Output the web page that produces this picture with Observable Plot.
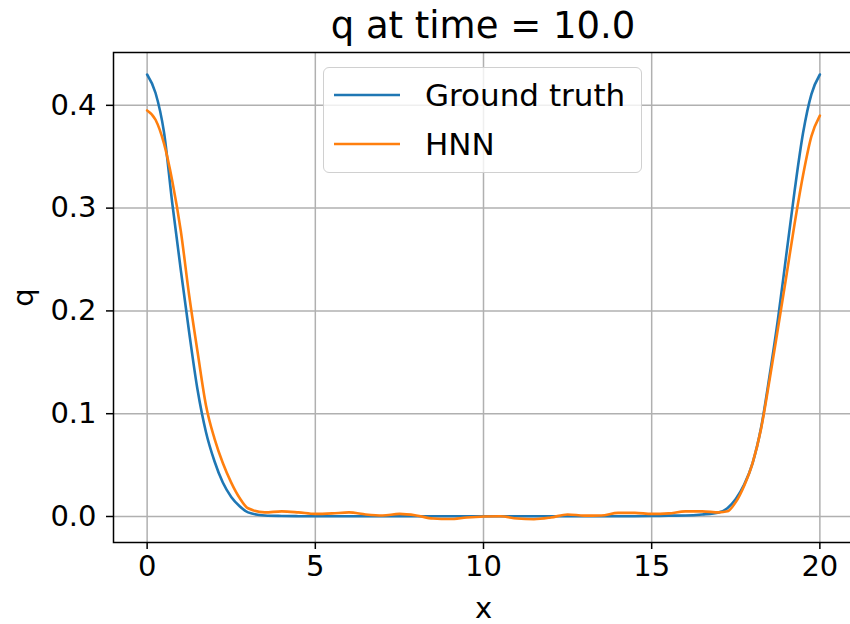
<!DOCTYPE html>
<html>
<head>
<meta charset="utf-8">
<script src="https://cdn.jsdelivr.net/npm/d3@7"></script>
<script src="https://cdn.jsdelivr.net/npm/@observablehq/plot@0.6"></script>
<style>
  body { margin: 0; background: #fff; font-family: "DejaVu Sans", sans-serif; }
  #wrap { position: relative; width: 850px; height: 624px; overflow: hidden; background: #fff; }
  #title { position: absolute; left: 113px; top: 0; width: 740px; height: 48px; text-align: center;
           font-size: 37px; line-height: 52px; color: #000; white-space: nowrap; }
  #chart { position: absolute; left: 0; top: 48px; }
  #legend { position: absolute; left: 323px; top: 67px; width: 317px; height: 104px;
            background: rgba(255,255,255,0.8); border: 1.5px solid #d0d0d0; border-radius: 6px;
            font-size: 31px; color: #000; }
  .item { position: absolute; left: 0; height: 40px; white-space: nowrap; }
  .item svg { position: absolute; left: 10px; top: 0; }
  .item span { position: absolute; left: 101px; top: 1px; line-height: 36px; }
</style>
</head>
<body>
<div id="wrap">
  <div id="title">q at time = 10.0</div>
  <div id="chart"></div>
  <div id="legend"></div>
</div>
<script>
// ---- data ----
const xs = [0, 0.25, 0.5, 0.75, 1, 1.25, 1.5, 1.75, 2, 2.25, 2.5, 2.75, 3,
  3.5, 4, 4.5, 5, 5.5, 6, 6.5, 7, 7.5, 8, 8.5, 9, 9.5, 10, 10.5, 11, 11.5, 12, 12.5, 13, 13.5, 14, 14.5, 15, 15.5, 16, 16.5, 17,
  17.25, 17.5, 17.75, 18, 18.25, 18.5, 18.75, 19, 19.25, 19.5, 19.75, 20];

const groundTruth = [0.430, 0.412, 0.374, 0.304, 0.240, 0.179, 0.123, 0.082, 0.054, 0.033, 0.019, 0.010, 0.004,
  0.001, 0.0005, 0.0003, 0.0002, 0.0002, 0.0002, 0.0002, 0.0002, 0.0002, 0.0002, 0.0002, 0.0002, 0.0002, 0.0002, 0.0002, 0.0002, 0.0002, 0.0002, 0.0002, 0.0002, 0.0002, 0.0002, 0.0003, 0.0005, 0.0008, 0.001, 0.002, 0.004,
  0.008, 0.017, 0.031, 0.052, 0.086, 0.136, 0.191, 0.254, 0.317, 0.373, 0.411, 0.430];

const hnn = [0.395, 0.386, 0.363, 0.326, 0.278, 0.215, 0.160, 0.108, 0.076, 0.052, 0.033, 0.018, 0.008,
  0.004, 0.005, 0.004, 0.0025, 0.003, 0.004, 0.002, 0.001, 0.0025, 0.001, -0.002, -0.0025, -0.001, 0.0, 0.0003, -0.002, -0.0027, -0.001, 0.002, 0.0008, 0.001, 0.0035, 0.0035, 0.0025, 0.003, 0.005, 0.005, 0.004,
  0.005, 0.014, 0.030, 0.052, 0.085, 0.132, 0.182, 0.233, 0.285, 0.332, 0.370, 0.390];

const seriesNames = ["Ground truth", "HNN"];
const seriesColors = ["#1f77b4", "#ff7f0e"];
const xTicks = [0, 5, 10, 15, 20];
const yTicks = [0.0, 0.1, 0.2, 0.3, 0.4];

// ---- build table ----
const rows = [];
xs.forEach((x, i) => {
  rows.push({x, q: groundTruth[i], series: seriesNames[0]});
  rows.push({x, q: hnn[i], series: seriesNames[1]});
});

const chart = Plot.plot({
  width: 850,
  height: 576,
  marginLeft: 113,
  marginRight: -3,
  marginTop: 4,
  marginBottom: 82,
  style: { fontFamily: "DejaVu Sans", fontSize: "29px", color: "#000", background: "transparent", overflow: "visible" },
  x: { domain: [-1, 21], ticks: xTicks, tickFormat: d => String(d), label: null },
  y: { domain: [-0.0253, 0.4514], ticks: yTicks, tickFormat: d => d.toFixed(1), label: null },
  color: { domain: seriesNames, range: seriesColors },
  marks: [
    Plot.gridX(xTicks, { stroke: "#b0b0b0", strokeOpacity: 1, strokeWidth: 1.5 }),
    Plot.gridY(yTicks, { stroke: "#b0b0b0", strokeOpacity: 1, strokeWidth: 1.5 }),
    Plot.line(rows, { x: "x", y: "q", z: "series", stroke: "series", strokeWidth: 2.6, curve: "monotone-x" }),
    Plot.axisX(xTicks, { tickSize: 7, tickPadding: 6, strokeWidth: 1.5, fontSize: 29, tickFormat: d => String(d),
      label: "x", labelAnchor: "center", labelArrow: "none", labelOffset: 75 }),
    Plot.axisY(yTicks, { tickSize: 7, tickPadding: 10, strokeWidth: 1.5, fontSize: 29, tickFormat: d => d.toFixed(1),
      label: "q", labelAnchor: "center", labelArrow: "none", labelOffset: 101 }),
    Plot.frame({ stroke: "#000", strokeWidth: 1.5 })
  ]
});
document.getElementById("chart").appendChild(chart);

// ---- legend ----
const legend = document.getElementById("legend");
seriesNames.forEach((name, i) => {
  const item = document.createElement("div");
  item.className = "item";
  item.style.top = (8 + i * 49) + "px";
  item.innerHTML = `<svg width="70" height="40"><line x1="0" x2="66" y1="19" y2="19" stroke="${seriesColors[i]}" stroke-width="2.6"/></svg><span>${name}</span>`;
  legend.appendChild(item);
});
</script>
</body>
</html>
